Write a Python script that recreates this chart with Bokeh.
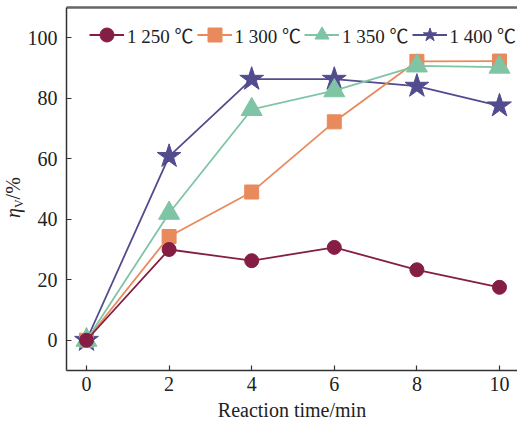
from bokeh.plotting import figure
from bokeh.layouts import row
from bokeh.models import (ColumnDataSource, Range1d, LinearAxis, FixedTicker,
                          Legend, LegendItem, Div)
from bokeh.embed import file_html
from bokeh.resources import INLINE

# ---- data ----
time_min = [0, 2, 4, 6, 8, 10]
eta_1250 = [0, 30.0, 26.3, 30.7, 23.3, 17.5]
eta_1300 = [0, 34.3, 49.0, 72.2, 92.2, 92.3]
eta_1350 = [0, 42.0, 76.3, 82.5, 90.7, 90.3]
eta_1400 = [0, 60.8, 86.3, 86.3, 84.0, 77.5]
series_labels = ["1 250 ℃", "1 300 ℃", "1 350 ℃", "1 400 ℃"]
x_ticks = [0, 2, 4, 6, 8, 10]
y_ticks = [0, 20, 40, 60, 80, 100]
y_title = ("η", "V", "/%")

FONT = "Liberation Serif"
AX = "#333333"
W, H = 517, 427
LABEL_W = 24

p = figure(width=W - LABEL_W, height=H, output_backend="svg", toolbar_location=None,
           x_range=Range1d(-0.484, 10.436), y_range=Range1d(-10, 110),
           min_border_left=66 - LABEL_W, min_border_right=0, min_border_top=7,
           min_border_bottom=57)
p.outline_line_color = None
p.xgrid.visible = False
p.ygrid.visible = False
p.background_fill_color = "white"
p.border_fill_color = "white"

for ax in (p.xaxis[0], p.yaxis[0]):
    ax.axis_line_color = AX
    ax.axis_line_width = 1.5
    ax.major_tick_line_color = AX
    ax.major_tick_line_width = 1.2
    ax.major_tick_in = 5
    ax.major_tick_out = 0
    ax.minor_tick_line_color = None
    ax.major_label_text_font = FONT
    ax.major_label_text_font_size = "20px"
    ax.major_label_text_color = "#222222"

p.xaxis[0].ticker = FixedTicker(ticks=x_ticks)
p.yaxis[0].ticker = FixedTicker(ticks=y_ticks)
p.xaxis[0].major_label_standoff = 6
p.yaxis[0].major_label_standoff = 9
p.xaxis[0].axis_label = "Reaction time/min"
p.xaxis[0].axis_label_text_font = FONT
p.xaxis[0].axis_label_text_font_size = "20px"
p.xaxis[0].axis_label_text_font_style = "normal"
p.xaxis[0].axis_label_text_color = "#222222"
p.xaxis[0].axis_label_standoff = 5

# top border
top = LinearAxis(ticker=FixedTicker(ticks=[]), major_label_text_font_size="0px",
                 major_tick_in=0, major_tick_out=0, major_label_standoff=0,
                 axis_line_color="#666666", axis_line_width=2.5)
p.add_layout(top, "above")

colors = {"1250": "#851E44", "1300": "#E98A5C", "1350": "#7EC4A5", "1400": "#524C8E"}
src = ColumnDataSource(dict(t=time_min, a=eta_1250, b=eta_1300, c=eta_1350, d=eta_1400))

r = {}
def series(col, key, marker, size):
    ln = p.line("t", col, source=src, line_color=colors[key], line_width=1.8)
    sc = p.scatter("t", col, source=src, marker=marker, size=size,
                   fill_color=colors[key], line_color=colors[key])
    r[key] = [ln, sc]

series("d", "1400", "star", 25)
series("b", "1300", "square", 14)
series("c", "1350", "triangle", 21)
series("a", "1250", "circle", 14)

items = [LegendItem(label=series_labels[i], renderers=r[k])
         for i, k in enumerate(["1250", "1300", "1350", "1400"])]
legend = Legend(items=items, orientation="horizontal", location="top_left",
                margin=0, padding=0, spacing=3, label_standoff=3,
                glyph_width=35, glyph_height=35, label_height=35,
                label_text_font="'Liberation Serif', 'Noto Sans CJK SC'",
                label_text_font_size="19px",
                label_text_color="#222222",
                border_line_color=None, background_fill_alpha=0)
legend.location = (23, 363 - 10 - 35)
p.add_layout(legend, "center")

# ---- y-axis title (rotated HTML text): eta_V / % ----
html = (
    f'<div style="position:relative;width:{LABEL_W}px;height:{H}px;overflow:visible;">'
    '<div style="position:absolute;left:3px;top:218px;transform-origin:0 0;'
    'transform:rotate(-90deg);white-space:nowrap;font-family:\'Liberation Serif\',serif;'
    'font-size:20px;line-height:20px;color:#222222;">'
    f'<i>{y_title[0]}</i>'
    f'<span style="font-size:12px;position:relative;top:3px;">{y_title[1]}</span>'
    f'{y_title[2]}</div></div>'
)
yl = Div(text=html, width=LABEL_W, height=H, margin=(0, 0, 0, 0))

layout = row(yl, p, spacing=0)
open("out.html", "w").write(file_html(layout, INLINE))
